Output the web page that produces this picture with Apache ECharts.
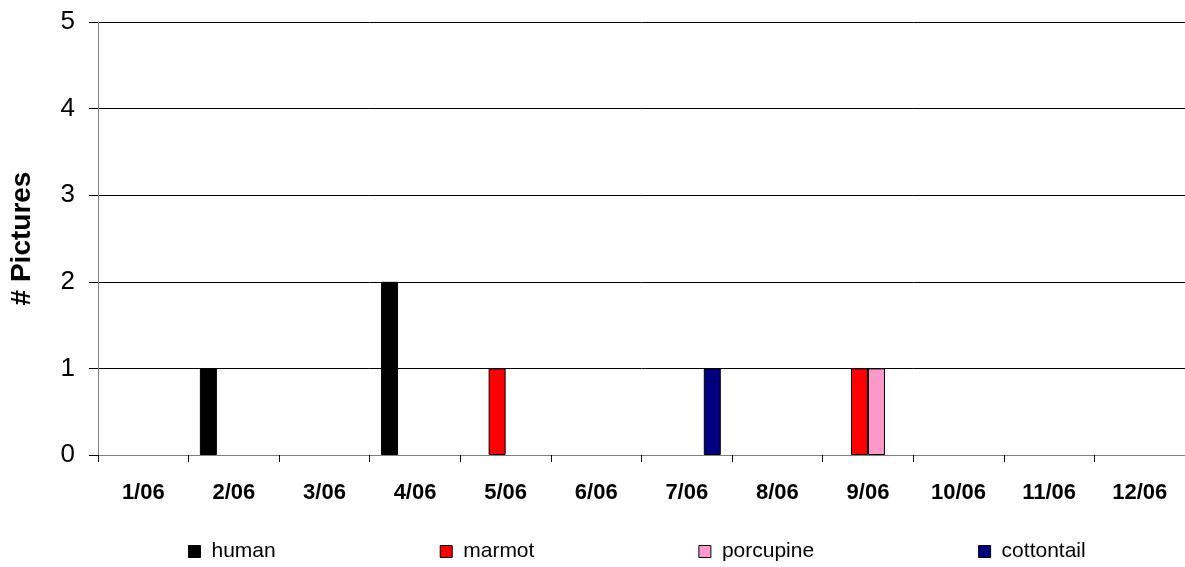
<!DOCTYPE html>
<html>
<head>
<meta charset="utf-8">
<script src="https://cdn.jsdelivr.net/npm/echarts@6/dist/echarts.min.js"></script>
<style>
  html, body { margin: 0; padding: 0; background: #fff; }
  #chart { width: 1185px; height: 567px; }
</style>
</head>
<body>
<div id="chart"></div>
<script>
// categories (month/year)
var months = ['1/06', '2/06', '3/06', '4/06', '5/06', '6/06', '7/06', '8/06', '9/06', '10/06', '11/06', '12/06'];
// pictures per species
var human      = [0, 1, 0, 2, 0, 0, 0, 0, 0, 0, 0, 0];
var marmot     = [0, 0, 0, 0, 1, 0, 0, 0, 1, 0, 0, 0];
var porcupine  = [0, 0, 0, 0, 0, 0, 0, 0, 1, 0, 0, 0];
var cottontail = [0, 0, 0, 0, 0, 0, 1, 0, 0, 0, 0, 0];
var seriesNames = ['human', 'marmot', 'porcupine', 'cottontail'];

var colors = ['#000000', '#ff0000', '#ff99cc', '#000080'];
var font = 'Liberation Sans, Arial, sans-serif';

var myChart = echarts.init(document.getElementById('chart'));

// zero counts draw nothing (no flat outline on the axis)
function bar(name, data) {
    return {
        name: name,
        type: 'bar',
        data: data.map(function (v) { return v === 0 ? null : v; }),
        barWidth: 17,
        barGap: '0%',
        itemStyle: { borderColor: '#000', borderWidth: 1 }
    };
}

var option = {
    animation: false,
    color: colors,
    grid: { left: 97, right: -4, top: 22, bottom: 112 },
    legend: {
        data: seriesNames,
        left: 183,
        top: 536,
        itemWidth: 12,
        itemHeight: 12,
        itemGap: 164,
        icon: 'rect',
        itemStyle: { borderColor: '#000', borderWidth: 1 },
        textStyle: { fontFamily: font, fontSize: 21, color: '#000', padding: [0, 0, 0, 6] }
    },
    xAxis: {
        type: 'category',
        data: months,
        axisLine: { lineStyle: { color: '#808080', width: 1 } },
        axisTick: { show: true, length: 7, lineStyle: { color: '#000' } },
        axisLabel: { fontFamily: font, fontSize: 22, fontWeight: 'bold', color: '#000', margin: 27 }
    },
    yAxis: {
        type: 'value',
        min: 0,
        max: 5,
        interval: 1,
        name: '# Pictures',
        nameLocation: 'middle',
        nameGap: 62,
        nameTextStyle: { fontFamily: font, fontSize: 28, fontWeight: 'bold', color: '#000' },
        axisLine: { show: true, lineStyle: { color: '#808080', width: 1 } },
        axisTick: { show: true, length: 9, lineStyle: { color: '#000' } },
        axisLabel: { fontFamily: font, fontSize: 26, color: '#000', margin: 23 },
        splitLine: { lineStyle: { color: '#000', width: 1 } }
    },
    series: [
        bar('human', human),
        bar('marmot', marmot),
        bar('porcupine', porcupine),
        bar('cottontail', cottontail)
    ]
};
myChart.setOption(option);
</script>
</body>
</html>
